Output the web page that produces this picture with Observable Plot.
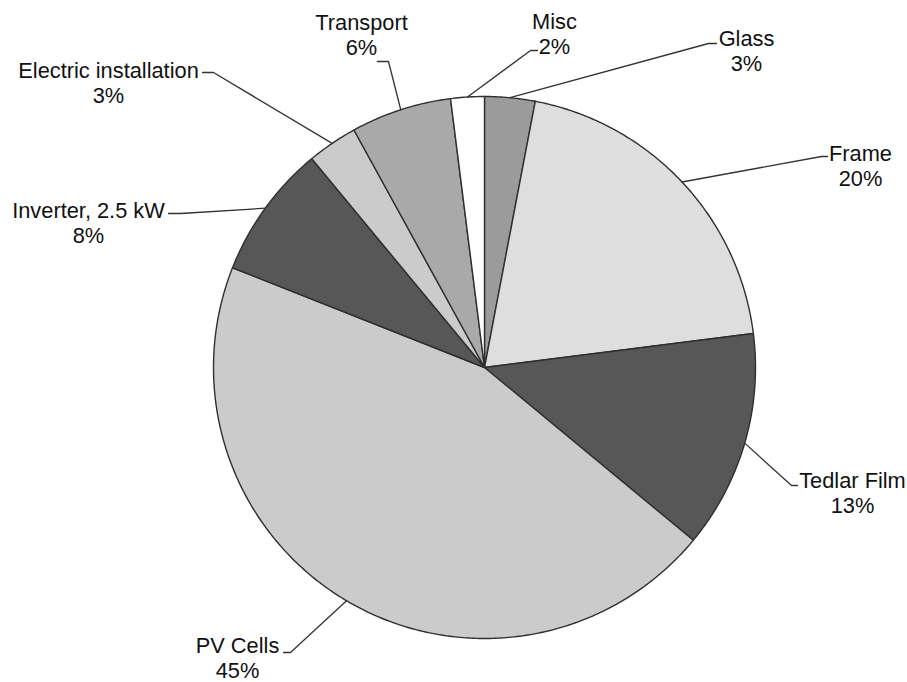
<!DOCTYPE html>
<html>
<head>
<meta charset="utf-8">
<script src="https://cdn.jsdelivr.net/npm/d3@7"></script>
<script src="https://cdn.jsdelivr.net/npm/@observablehq/plot@0.6"></script>
<style>
  html, body { margin: 0; padding: 0; background: #ffffff; }
  #chart svg { display: block; }
</style>
</head>
<body>
<div id="chart"></div>
<script>
// ---- data ----
const categories = ["Glass", "Frame", "Tedlar Film", "PV Cells", "Inverter, 2.5 kW", "Electric installation", "Transport", "Misc"];
const shares = [3, 20, 13, 45, 8, 3, 6, 2];
const percentLabels = ["3%", "20%", "13%", "45%", "8%", "3%", "6%", "2%"];

// ---- styles ----
const sliceColors = ["#9b9b9b", "#dedede", "#575757", "#cbcbcb", "#575757", "#cbcbcb", "#a9a9a9", "#ffffff"];

// ---- layout (chart space, same units as the pixel canvas) ----
const W = 907, H = 682;
const pieCenter = [484, 367];
const pieRadius = 271;
const labelX = [746, 860, 852, 237, 88, 108, 361, 554];
const labelBaseline = [43, 158, 485, 650, 215, 75, 27, 26];
const elbowX = [708, 821, 791, 290, 180, 213, 388, 530];
const elbowY = [43, 156, 485, 652, 213, 72, 61, 50];
const endX = [716, 827, 797, 283, 168, 202, 377, 537];
const endY = [43, 156, 485, 652, 213, 72, 61, 50];

const fontSize = 21.8;
const lineHeight = 1.16;

const [cx, cy] = pieCenter;
const arcs = d3.pie().sort(null).value(d => d)(shares);
const pt = (a, r) => ({ x: cx + r * Math.sin(a), y: cy - r * Math.cos(a) });

const slicePts = [];
arcs.forEach((a, i) => {
  const name = categories[i];
  slicePts.push({ name, ...pt(0, 0) });
  const n = Math.max(4, Math.ceil((a.endAngle - a.startAngle) / 0.01));
  for (let k = 0; k <= n; k++) {
    const ang = a.startAngle + (a.endAngle - a.startAngle) * k / n;
    slicePts.push({ name, ...pt(ang, pieRadius) });
  }
});

const leaderPts = [];
arcs.forEach((a, i) => {
  const name = categories[i];
  const mid = (a.startAngle + a.endAngle) / 2;
  leaderPts.push({ name, ...pt(mid, pieRadius) });
  leaderPts.push({ name, x: elbowX[i], y: elbowY[i] });
  leaderPts.push({ name, x: endX[i], y: endY[i] });
});

const labels = categories.map((c, i) => ({
  text: c + "\n" + percentLabels[i],
  x: labelX[i],
  y: labelBaseline[i] - 0.71 * fontSize
}));

const chart = Plot.plot({
  width: W,
  height: H,
  margin: 0,
  x: { domain: [0, W], axis: null },
  y: { domain: [H, 0], axis: null },
  color: { domain: categories, range: sliceColors },
  style: { fontFamily: "'Liberation Sans', Arial, Helvetica, sans-serif", background: "#ffffff" },
  marks: [
    Plot.line(slicePts, { x: "x", y: "y", z: "name", fill: "name", stroke: "#2f2f2f", strokeWidth: 1.4, curve: "linear-closed", strokeLinejoin: "round" }),
    Plot.line(leaderPts, { x: "x", y: "y", z: "name", stroke: "#333333", strokeWidth: 1.3 }),
    Plot.text(labels, { x: "x", y: "y", text: "text", fontSize, lineAnchor: "top", lineHeight, textAnchor: "middle", fill: "#111111" })
  ]
});
document.getElementById("chart").appendChild(chart);
</script>
</body>
</html>
